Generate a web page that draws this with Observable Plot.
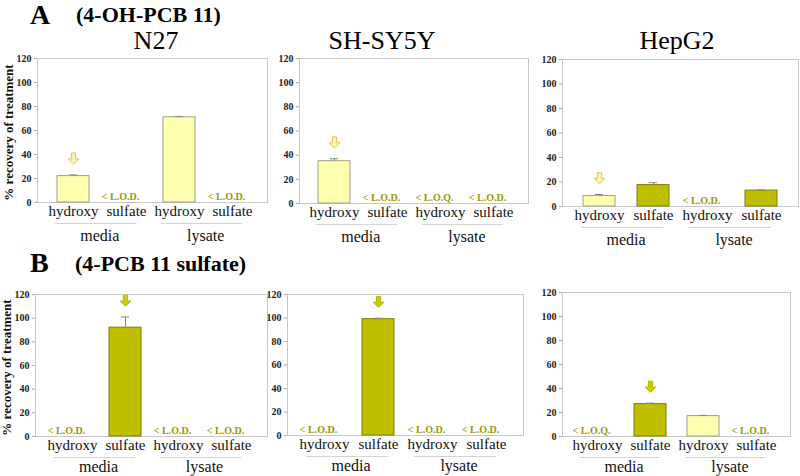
<!DOCTYPE html>
<html><head><meta charset="utf-8">
<script src="https://cdn.jsdelivr.net/npm/d3@7"></script>
<script src="https://cdn.jsdelivr.net/npm/@observablehq/plot@0.6"></script>
<style>
body{margin:0;background:#fff;}
#root{position:relative;width:800px;height:476px;overflow:hidden;font-family:"Liberation Serif","DejaVu Serif","Noto Serif",serif;background:#fff;}
#root svg, #root svg text{font-family:"Liberation Serif","DejaVu Serif","Noto Serif",serif !important;}
.abs{position:absolute;white-space:nowrap;line-height:1.1;color:#000;}
.panel{position:absolute;}
</style></head><body><div id="root"></div>
<script>
// ---- data ----
const cellLines = ["N27", "SH-SY5Y", "HepG2"];
const fractions = ["media", "lysate"];
const analytes = ["hydroxy", "sulfate"];
const yTicks = [0, 20, 40, 60, 80, 100, 120];
const rowTitles = ["(4-OH-PCB 11)", "(4-PCB 11 sulfate)"];
const rowLetters = ["A", "B"];
const yLabel = "% recovery of treatment";

// per cell line: [media hydroxy, media sulfate, lysate hydroxy, lysate sulfate]
const valuesA = [[22, null, 71, null], [35, null, null, null], [8.5, 17.5, null, 13]];
const errorsA = [[1, null, 0.6, null], [2, null, null, null], [1.3, 2, null, 0.6]];
const limitsA = [[null, "< L.O.D.", null, "< L.O.D."], [null, "< L.O.D.", "< L.O.Q.", "< L.O.D."], [null, null, "< L.O.D.", null]];
const arrowsA = [0, 0, 0];

const valuesB = [[null, 92, null, null], [null, 99, null, null], [null, 27, 17, null]];
const errorsB = [[null, 9, null, null], [null, 0.8, null, null], [null, 0.8, 0.6, null]];
const limitsB = [["< L.O.D.", null, "< L.O.D.", "< L.O.D."], ["< L.O.D.", null, "< L.O.D.", "< L.O.D."], ["< L.O.Q.", null, null, "< L.O.D."]];
const arrowsB = [1, 1, 1];

// ---- styles / layout ----
const FONT = "'Liberation Serif','DejaVu Serif','Noto Serif',serif";
const categories = fractions.flatMap(f => analytes.map(a => f + "|" + a));
const barFill = {hydroxy: "#ffffb0", sulfate: "#bfbf00"};
const barStroke = {hydroxy: "#a0a08a", sulfate: "#7d7d10"};
const arrowStyle = [{fill: "#fff6a8", stroke: "#d9c462"}, {fill: "#cccc00", stroke: "#b5b500"}];
// frame boxes [left, right, top, bottom] in page pixels
const frames = [
  [[37, 267, 58, 202], [299, 528, 58, 203], [562, 798, 59, 206]],
  [[35, 267, 294, 436], [287, 523, 294, 435], [562, 790, 292, 436]]
];
const groupLabelOffset = [33, 30];
const titleCenters = [156, 382, 677];

const arrowSymbol = {
  draw(ctx, size) {
    const s = Math.sqrt(size);
    ctx.moveTo(-0.2 * s, -0.55 * s);
    ctx.lineTo(0.2 * s, -0.55 * s);
    ctx.lineTo(0.2 * s, 0);
    ctx.lineTo(0.5 * s, 0);
    ctx.lineTo(0, 0.5 * s);
    ctx.lineTo(-0.5 * s, 0);
    ctx.lineTo(-0.2 * s, 0);
    ctx.closePath();
  }
};

const root = document.getElementById("root");
function addText(txt, left, top, size, bold, center) {
  const d = document.createElement("div");
  d.className = "abs";
  d.textContent = txt;
  d.style.left = left + "px";
  d.style.top = top + "px";
  d.style.fontSize = size + "px";
  d.style.fontWeight = bold ? "bold" : "normal";
  if (center) d.style.transform = "translateX(-50%)";
  root.appendChild(d);
}

addText(rowLetters[0], 30, 0, 28, true);
addText(rowTitles[0], 76, 3, 22, true);
addText(rowLetters[1], 30, 248, 28, true);
addText(rowTitles[1], 75, 252, 22, true);
cellLines.forEach((c, i) => addText(c, titleCenters[i], 27, 26, false, true));

const rowsData = [[valuesA, errorsA, limitsA, arrowsA], [valuesB, errorsB, limitsB, arrowsB]];

rowsData.forEach(([vals, errs, lims, arrs], r) => {
  cellLines.forEach((cell, c) => {
    const [L, R, T, B] = frames[r][c];
    const ml = c === 0 ? L : 32, mt = 8, mr = 2, mb = 40;
    const width = (R - L) + ml + mr;
    const height = (B - T) + mt + mb;
    const innerW = R - L;
    const step = innerW / (4 - 0.4 + 2 * 0.35);
    const rows = categories.map((cat, i) => ({
      cat,
      fraction: cat.split("|")[0],
      analyte: cat.split("|")[1],
      value: vals[c][i],
      err: errs[c][i],
      limit: lims[c][i],
      arrow: arrs[c] === i
    }));
    const bars = rows.filter(d => d.value != null);
    const withErr = bars.filter(d => d.err != null);
    const marks = [
      Plot.frame({stroke: "#c8c8c8"}),
      Plot.barY(bars, {x: "cat", y: "value", fill: d => barFill[d.analyte], stroke: d => barStroke[d.analyte], strokeWidth: 1}),
      Plot.ruleX(withErr, {x: "cat", y1: "value", y2: d => d.value + d.err, stroke: "#888"}),
      Plot.tickY(withErr, {x: "cat", y: d => d.value + d.err, stroke: "#888", insetLeft: 12, insetRight: 12}),
      Plot.dot(bars.filter(d => d.arrow), {x: "cat", y: d => d.value + (d.err || 0), dy: -16, r: 6, symbol: arrowSymbol, fill: arrowStyle[r].fill, stroke: arrowStyle[r].stroke, strokeWidth: 1}),
      Plot.text(rows.filter(d => d.limit), {x: "cat", y: d => 0, text: "limit", dy: -6, dx: -6, fill: "#999900", fontWeight: "bold", fontSize: 10, lineAnchor: "middle", fontFamily: FONT}),
      Plot.ruleY(fractions, {y: d => 0, x1: d => d + "|hydroxy", x2: d => d + "|sulfate", dy: 21, insetLeft: -2, insetRight: 6, stroke: "#d4d4d4"}),
      Plot.text(fractions, {x: d => d + "|sulfate", y: d => 0, text: d => d, dx: -step / 2, dy: groupLabelOffset[r], fontSize: 16, lineAnchor: "middle", fill: "#111", fontFamily: FONT}),
      Plot.axisY({ticks: yTicks, tickFormat: d => String(d), tickSize: 3, tickPadding: 3, fontSize: 10, fontWeight: "bold", stroke: "#aaa", fill: "#222", label: null, fontFamily: FONT}),
      Plot.axisX({tickSize: 0, tickPadding: 3, tickFormat: d => d.split("|")[1], fontSize: 15, fill: "#111", label: null, fontFamily: FONT})
    ];
    if (c === 0) {
      marks.push(Plot.text([yLabel], {frameAnchor: "left", textAnchor: "middle", text: d => d, rotate: -90, dx: -29, dy: 2, fontSize: 13, fontWeight: "bold", fill: "#111", fontFamily: FONT}));
    }
    const svg = Plot.plot({
      width, height,
      marginLeft: ml, marginRight: mr, marginTop: mt, marginBottom: mb,
      style: {fontFamily: FONT, background: "transparent", overflow: "visible"},
      x: {type: "band", domain: categories, paddingInner: 0.4, paddingOuter: 0.35, axis: null},
      y: {domain: [0, 120], axis: null},
      marks
    });
    svg.classList.add("panel");
    svg.style.left = (L - ml) + "px";
    svg.style.top = (T - mt) + "px";
    root.appendChild(svg);
  });
});
</script>
</body></html>
